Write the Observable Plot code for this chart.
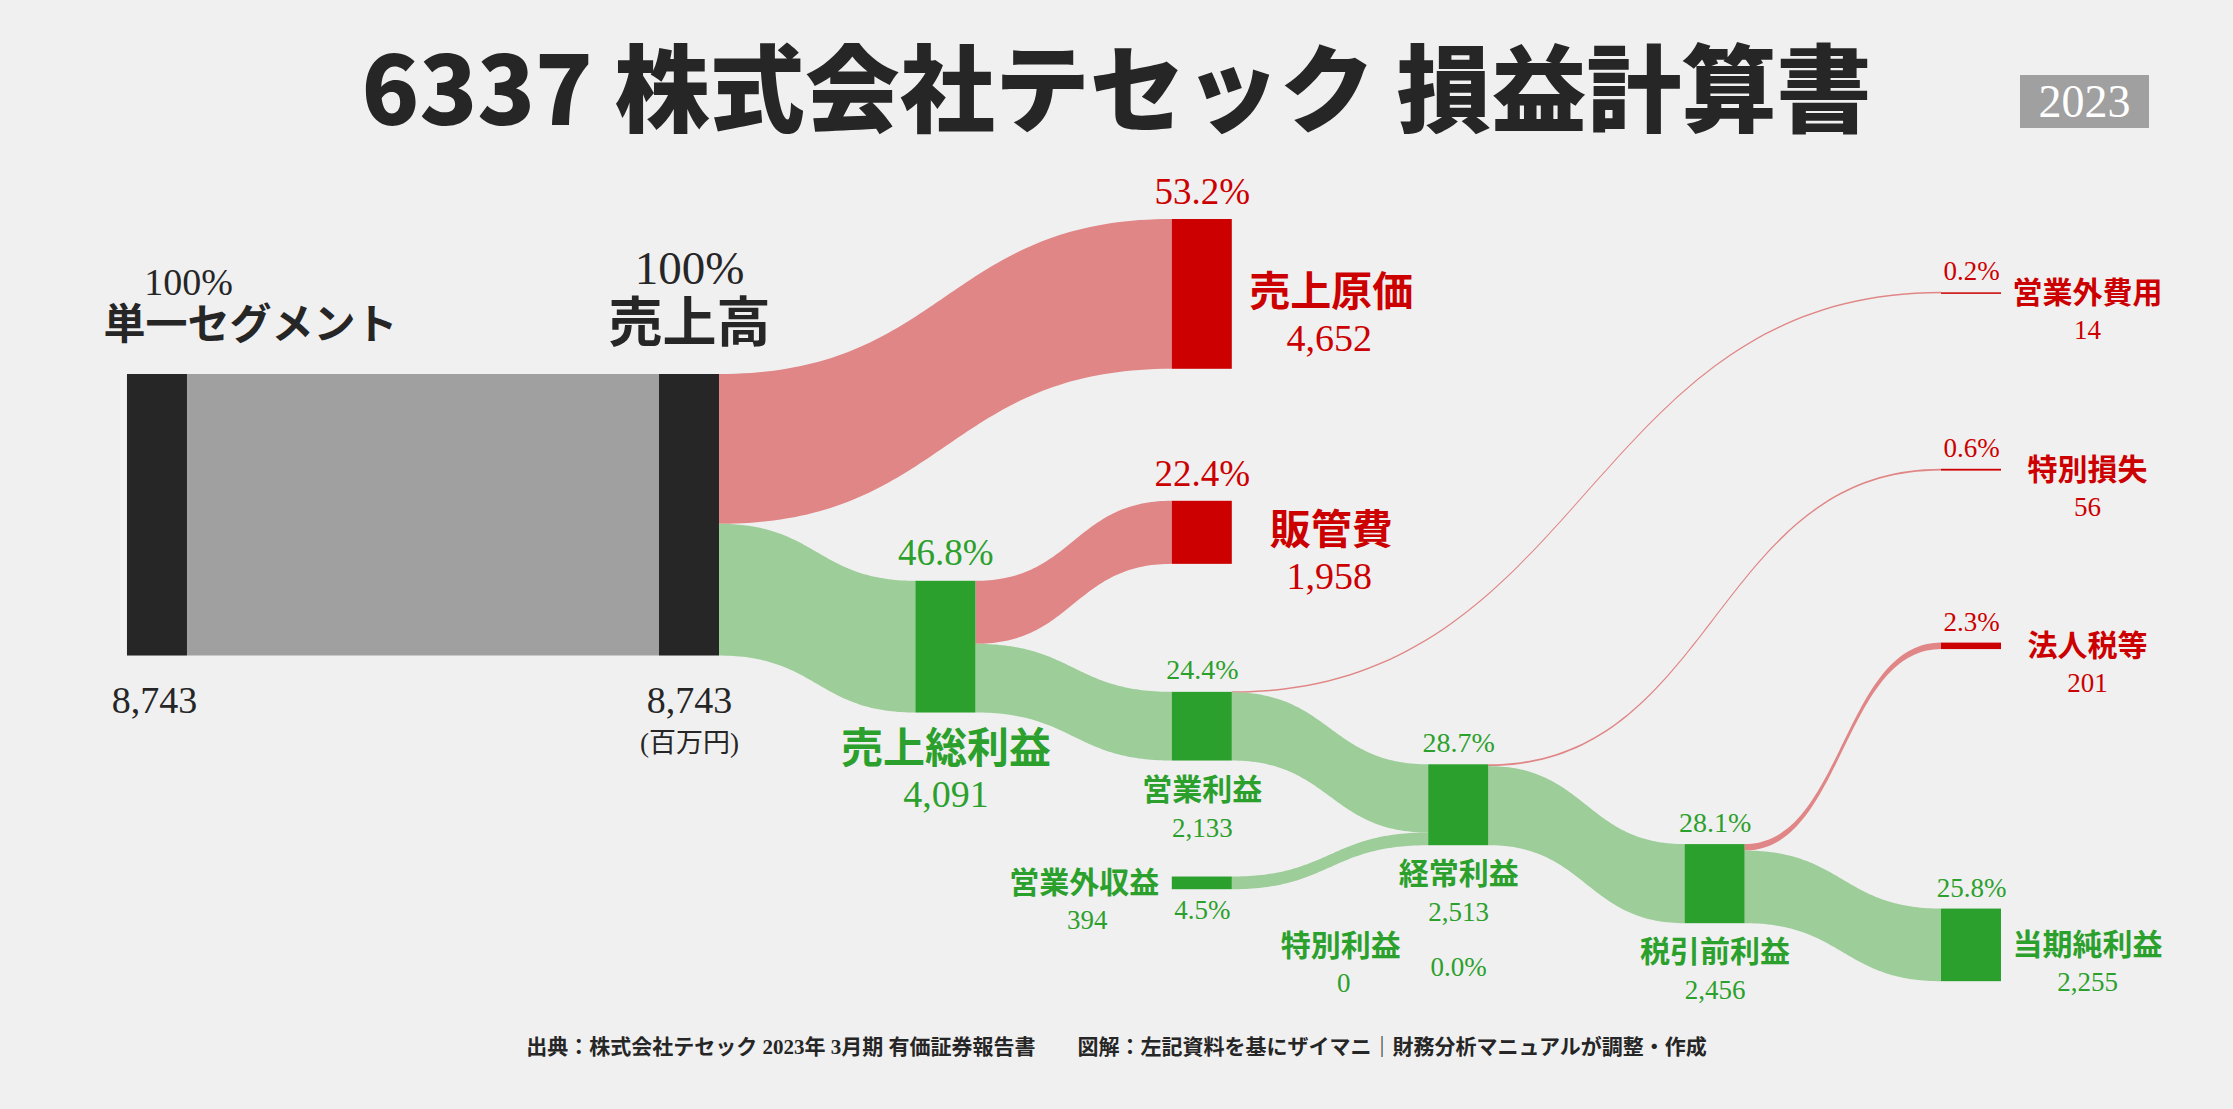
<!DOCTYPE html>
<html><head><meta charset="utf-8">
<script src="https://cdn.jsdelivr.net/npm/d3@7"></script>
<script src="https://cdn.jsdelivr.net/npm/@observablehq/plot@0.6"></script>
<style>
html,body{margin:0;padding:0;}
body{background:#f0f0f0;width:2233px;height:1109px;overflow:hidden;position:relative;font-family:"Noto Sans CJK JP",sans-serif;}
#title{position:absolute;left:0;top:36px;width:2233px;text-align:center;font-size:95px;line-height:95px;font-weight:900;color:#262626;white-space:pre;}
#badge{position:absolute;left:2020px;top:75px;width:129px;height:53px;background:#a0a0a0;color:#fff;font-family:"Liberation Serif",serif;font-size:46px;line-height:54px;text-align:center;}
#chart{position:absolute;left:0;top:150px;}
#footer{position:absolute;left:0;top:1033px;width:2233px;text-align:center;font-family:"Liberation Serif","Noto Sans CJK JP",serif;font-weight:700;font-size:21px;line-height:28px;color:#262626;white-space:pre;}
</style></head><body>
<div id="title"></div><div id="badge"></div><div id="chart"></div><div id="footer"></div>
<script>
// ---------- data ----------
const titleText = "6337 株式会社テセック 損益計算書";
const yearLabel = "2023";
const unitLabel = "(百万円)";
const footerText = "出典：株式会社テセック 2023年 3月期 有価証券報告書　　図解：左記資料を基にザイマニ｜財務分析マニュアルが調整・作成";

const nodeIds    = ["seg","sales","cogs","gross","sga","op","nonopExp","nonopInc","ordinary","specialLoss","specialGain","preTax","tax","net"];
const nodeNames  = ["単一セグメント","売上高","売上原価","売上総利益","販管費","営業利益","営業外費用","営業外収益","経常利益","特別損失","特別利益","税引前利益","法人税等","当期純利益"];
const nodeValues = [8743,8743,4652,4091,1958,2133,14,394,2513,56,0,2456,201,2255];
const nodeKinds  = ["base","base","cost","profit","cost","profit","cost","profit","profit","cost","profit","profit","cost","profit"];

const linkSources = ["seg","sales","sales","gross","gross","op","op","nonopInc","ordinary","ordinary","specialGain","preTax","preTax"];
const linkTargets = ["sales","cogs","gross","sga","op","nonopExp","ordinary","ordinary","specialLoss","preTax","preTax","tax","net"];
const linkValues  = [8743,4652,4091,1958,2133,14,2119,394,56,2456,0,201,2255];

// ---------- layout (not data) ----------
const W = 2233, H = 870;
const k = 0.0322;          // px per unit
const colPx = 256.4;       // px between columns
const nodeWpx = 60;
const originY = 224;       // svg y of the first node's top
const colOf = {seg:-2.075, sales:0, gross:1, cogs:2, sga:2, op:2, nonopInc:2, ordinary:3, specialGain:3, preTax:4, nonopExp:5, specialLoss:5, tax:5, net:5};
const shiftPx = {sales:0, cogs:-155, gross:57, sga:-80, op:48, nonopExp:-399.5, ordinary:72, nonopInc:44, specialLoss:-295.5, preTax:78, specialGain:23, tax:-201.5, net:58};
const labelStyle = {seg:"seg", sales:"sales", cogs:"costBig", sga:"costBig", gross:"grossBig", op:"profit", ordinary:"profit", preTax:"profit", nonopExp:"right", specialLoss:"right", tax:"right", net:"right", nonopInc:"left", specialGain:"left"};
const nodeColor = {base:"#262626", cost:"#cc0000", profit:"#2ca02c"};
const linkColor = {base:"#a0a0a0", cost:"#e08686", profit:"#9dcd99"};

const u = px => px / k;          // px -> value units (vertical)
const c = px => px / colPx;      // px -> column units (horizontal)
const nodeW = c(nodeWpx);

const nodes = nodeIds.map((id, i) => ({id, name: nodeNames[i], value: nodeValues[i], kind: nodeKinds[i], col: colOf[id], top: null, outOff: 0, inOff: 0}));
const byId = Object.fromEntries(nodes.map(n => [n.id, n]));
byId.seg.top = 0;

const links = linkSources.map((s, i) => ({source: byId[s], target: byId[linkTargets[i]], value: linkValues[i]}));
for (const l of links) {
  const s = l.source, t = l.target;
  if (s.top !== null) {
    l.sy = s.top + s.outOff;
    if (t.top === null) t.top = l.sy + u(shiftPx[t.id]);
    l.ty = t.top + t.inOff;
  } else {
    l.ty = t.top + t.inOff;
    s.top = l.ty + u(shiftPx[s.id]);
    l.sy = s.top + s.outOff;
  }
  s.outOff += l.value; t.inOff += l.value;
}

// link ribbons sampled along a horizontal bezier
const minHalf = u(0.75);
const linkPts = [];
links.forEach((l, i) => {
  if (l.value <= 0) return;
  const x0 = l.source.col + nodeW, x1 = l.target.col, xm = (x0 + x1) / 2;
  const half = Math.max(l.value / 2, minHalf);
  const ys = l.sy + l.value / 2, yt = l.ty + l.value / 2;
  const color = l.source.id === "seg" ? linkColor.base : linkColor[l.target.kind];
  const n = 80;
  for (let j = 0; j <= n; j++) {
    const t = j / n, a = (1 - t) ** 3, b = 3 * (1 - t) ** 2 * t, cc = 3 * (1 - t) * t * t, d = t ** 3;
    const x = a * x0 + (b + cc) * xm + d * x1;
    const y = (a + b) * ys + (cc + d) * yt;
    linkPts.push({id: i, x, y1: y - half, y2: y + half, color});
  }
});

// node rectangles
const rects = nodes.map(n => {
  const h = Math.max(n.value, u(1.5));
  return {x1: n.col, x2: n.col + nodeW, y1: n.top, y2: n.value > 0 ? n.top + h : n.top, fill: nodeColor[n.kind], show: n.value > 0};
}).filter(d => d.show);

// labels
const fmt = d3.format(",");
const total = nodeValues[0];
const pct = v => v === total ? "100%" : (v / total * 100).toFixed(1) + "%";
const serifLabels = [], sansLabels = [];
for (const n of nodes) {
  const col = nodeColor[n.kind];
  const L = n.col, R = n.col + nodeW, cx = n.col + nodeW / 2;
  const hU = n.value > 0 ? Math.max(n.value, u(1.5)) : 0;
  const T = n.top, B = n.top + hU, cy = n.top + hU / 2;
  const P = (x, y, text, size) => serifLabels.push({x, y, text, size, fill: col});
  const S = (x, y, text, size) => sansLabels.push({x, y, text, size, fill: col});
  switch (labelStyle[n.id]) {
    case "seg":
      P(R + c(1), T - u(92), pct(n.value), 38);
      S(R + c(63), T - u(49), n.name, 42);
      P(cx - c(3), B + u(45), fmt(n.value), 38);
      break;
    case "sales":
      P(cx, T - u(106), pct(n.value), 47);
      S(cx, T - u(50), n.name, 54);
      P(cx, B + u(45), fmt(n.value), 38);
      P(cx, B + u(87), unitLabel, 27);
      break;
    case "costBig":
      P(cx, T - u(27), pct(n.value), 37);
      S(R + c(99), cy - u(2), n.name, 41);
      P(R + c(97), cy + u(44), fmt(n.value), 38);
      break;
    case "grossBig":
      P(cx, T - u(28), pct(n.value), 37);
      S(cx, B + u(37), n.name, 42);
      P(cx, B + u(82), fmt(n.value), 38);
      break;
    case "profit":
      P(cx, T - u(22), pct(n.value), 28);
      S(cx, B + u(29), n.name, 30);
      P(cx, B + u(67), fmt(n.value), 27);
      break;
    case "right":
      P(cx, T - u(21), pct(n.value), 27);
      S(R + c(86), cy, n.name, 30);
      P(R + c(86), cy + u(37), fmt(n.value), 27);
      break;
    case "left":
      P(cx, B + u(21), pct(n.value), 27);
      S(L - c(88), cy, n.name, 30);
      P(L - c(85), cy + u(37), fmt(n.value), 27);
      break;
  }
}

const chart = Plot.plot({
  width: W, height: H, margin: 0,
  style: {background: "transparent", overflow: "visible"},
  x: {axis: null, domain: [0, 5], range: [659, 1941]},
  y: {axis: null, domain: [u(-originY), u(H - originY)], range: [0, H]},
  color: {type: "identity"},
  marks: [
    Plot.areaY(linkPts, {x: "x", y1: "y1", y2: "y2", z: "id", fill: "color", curve: "linear"}),
    Plot.rect(rects, {x1: "x1", x2: "x2", y1: "y1", y2: "y2", fill: "fill"}),
    Plot.text(serifLabels, {x: "x", y: "y", text: "text", fontSize: "size", fill: "fill", fontFamily: "Liberation Serif, Noto Sans CJK JP, serif"}),
    Plot.text(sansLabels, {x: "x", y: "y", text: "text", fontSize: "size", fill: "fill", fontWeight: 700, fontFamily: "Noto Sans CJK JP, sans-serif"})
  ]
});
document.getElementById("chart").appendChild(chart);
document.getElementById("title").textContent = titleText;
document.getElementById("badge").textContent = yearLabel;
document.getElementById("footer").textContent = footerText;
</script>
</body></html>
